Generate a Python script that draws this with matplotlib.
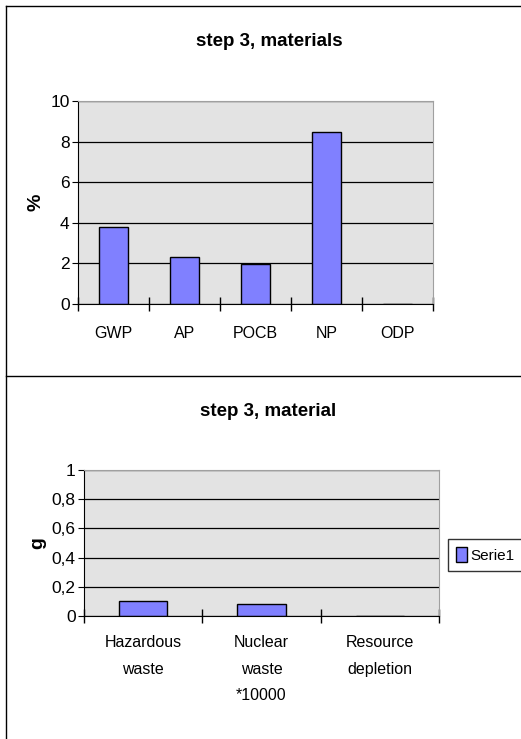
import matplotlib.pyplot as plt
from matplotlib.lines import Line2D

plt.rcParams['font.family'] = ['Liberation Sans', 'DejaVu Sans']

# data, top chart
cats1 = ["GWP", "AP", "POCB", "NP", "ODP"]
vals1 = [3.8, 2.3, 1.95, 8.45, 0.0]
yticks1 = [0, 2, 4, 6, 8, 10]

# data, bottom chart
cats2 = ["Hazardous\nwaste", "Nuclear\nwaste\n*10000", "Resource\ndepletion"]
vals2 = [0.1, 0.085, 0.0]
yticks2 = [0, 0.2, 0.4, 0.6, 0.8, 1.0]
ylabels2 = ["0", "0,2", "0,4", "0,6", "0,8", "1"]

W, H = 521, 739
fig = plt.figure(figsize=(W / 100, H / 100), dpi=100)

def box(x0, y0, w, h):
    return [x0 / W, 1 - (y0 + h) / H, w / W, h / H]

def style(ax, n):
    ax.set_facecolor("#E3E3E3")
    ax.set_xlim(-0.5, n - 0.5)
    ax.yaxis.grid(True, color="black", linewidth=0.9)
    ax.set_axisbelow(True)
    for s in ["top", "right"]:
        ax.spines[s].set_color("#A0A0A0")
    for s in ["left", "bottom"]:
        ax.spines[s].set_color("black")
    ax.set_xticks(range(n))
    ax.tick_params(axis="x", which="major", length=0, pad=16, labelsize=11.5)
    ax.set_xticks([i + 0.5 for i in range(-1, n)], minor=True)
    ax.tick_params(axis="x", which="minor", direction="inout", length=10, width=1)
    ax.tick_params(axis="y", direction="out", length=4, labelsize=12.5, pad=2)

# top chart
ax1 = fig.add_axes(box(78, 101, 355, 203))
ax1.bar(range(len(cats1)), vals1, width=0.41, color="#8080FF", edgecolor="black", linewidth=1)
style(ax1, len(cats1))
ax1.set_ylim(0, 10)
ax1.set_yticks(yticks1)
ax1.set_xticklabels(cats1)
ax1.set_ylabel("%", fontsize=14, fontweight="bold", labelpad=4)
fig.text(269 / W, 1 - 42 / H, "step 3, materials", ha="center", va="center",
         fontsize=13.5, fontweight="bold")

# bottom chart
ax2 = fig.add_axes(box(84, 470, 355, 146))
ax2.bar(range(len(cats2)), vals2, width=0.41, color="#8080FF", edgecolor="black",
        linewidth=1, label="Serie1")
style(ax2, len(cats2))
ax2.set_ylim(0, 1)
ax2.set_yticks(yticks2)
ax2.set_yticklabels(ylabels2)
ax2.set_xticklabels(cats2, va="top", linespacing=1.95)
ax2.tick_params(axis="x", which="major", pad=14)
ax2.set_ylabel("g", fontsize=14, fontweight="bold", labelpad=4)
fig.text(268 / W, 1 - 412 / H, "step 3, material", ha="center", va="center",
         fontsize=13.5, fontweight="bold")
fig.legend(loc="center left", bbox_to_anchor=(448 / W, 1 - 555 / H), fontsize=11,
           frameon=True, fancybox=False, edgecolor="black", handlelength=0.7,
           handleheight=1.15, handletextpad=0.2, borderpad=0.55, borderaxespad=0)

# chart frame borders
for xs, ys in [([6, 6], [6, 739]), ([6, 521], [6, 6]), ([6, 521], [376, 376])]:
    fig.add_artist(Line2D([x / W for x in xs], [1 - y / H for y in ys],
                          color="black", linewidth=1))

fig.savefig("out.png", dpi=100)
